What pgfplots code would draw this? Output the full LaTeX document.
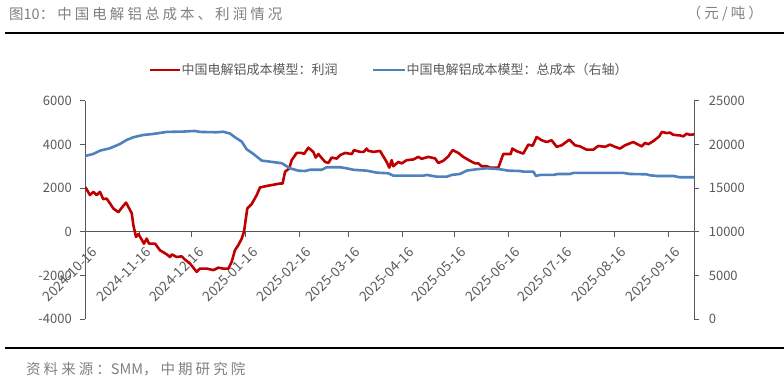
\documentclass[border=0pt]{standalone}
\usepackage{pgfplots}
\pgfplotsset{compat=1.18}
\usepackage{pgfplotstable}
\usepackage{fontspec}
\setmainfont{Noto Sans CJK SC}
\newfontfamily\titlefont[LetterSpace=21]{Noto Sans CJK SC}
\newfontfamily\plainfont{Noto Sans CJK SC}
\definecolor{cred}{RGB}{192,0,0}
\definecolor{cblue}{RGB}{79,129,189}
\definecolor{tgray}{HTML}{595959}
\definecolor{hgray}{HTML}{808080}

\pgfplotstableread{
day profit
0 2050
2.7 1680
4.6 1830
6.5 1680
8.4 1830
10.3 1500
12.3 1520
14.2 1300
16.1 1070
19.0 900
20.9 1100
23.4 1340
26.7 850
27.6 320
29.1 -230
30.5 -100
32.4 -350
33.7 -540
35.3 -310
36.6 -540
40.1 -540
42.9 -840
46.8 -1030
48.7 -1150
49.7 -1030
52.5 -1150
55.4 -1120
57.3 -1270
60.2 -1450
64.0 -1830
65.9 -1680
69.8 -1680
73.6 -1750
76.4 -1640
79.3 -1680
82.2 -1680
84.1 -1380
86.0 -840
87.9 -610
89.9 -310
91.2 0
93.1 1070
95.6 1270
98.5 1680
100.4 2030
104.3 2100
111.9 2210
113.4 2210
114.8 2750
117.2 2900
118.6 3280
121.5 3610
124.4 3610
125.7 3560
128.2 3850
131.0 3660
132.4 3400
133.9 3560
135.3 3430
137.8 3200
139.7 3150
141.6 3400
144.5 3350
146.4 3510
149.3 3610
153.1 3560
154.4 3740
157.9 3660
160.0 3660
161.7 3810
162.6 3710
165.5 3660
169.4 3700
173.2 3200
174.7 2940
176.1 3280
177.0 3000
179.9 3200
181.8 3130
184.7 3280
188.5 3310
191.4 3430
193.3 3340
197.1 3430
201.0 3360
202.9 3150
205.7 3250
208.6 3450
211.1 3740
214.4 3610
217.2 3430
221.1 3250
224.0 3130
225.9 3130
227.8 3000
230.7 3000
232.6 2940
237.4 2940
240.2 3560
244.5 3560
245.4 3810
247.9 3690
251.7 3580
254.6 3990
257.1 3940
259.4 4340
262.3 4190
265.2 4110
268.0 4190
270.9 3890
273.8 3960
278.2 4220
281.4 3960
284.3 3910
288.1 3760
292.0 3760
294.8 3930
298.7 3890
301.5 3990
304.4 3890
307.3 3810
310.2 3960
314.9 4110
317.8 3990
319.8 3910
321.7 4070
323.6 4010
326.4 4150
329.9 4370
331.3 4570
334.1 4520
336.0 4540
337.9 4440
341.8 4410
343.7 4370
345.6 4490
347.5 4440
350.0 4460
}\profittable

\pgfplotstableread{
day cost
0 18680
4.6 18910
8.4 19290
14.2 19560
19.9 20050
23.8 20510
27.6 20820
33.3 21080
39.1 21200
46.8 21430
56.3 21470
63.0 21540
65.9 21430
75.5 21390
79.3 21450
83.2 21240
86.0 20820
89.9 20320
92.7 19450
96.6 18910
101.4 18150
106.1 18030
112.9 17850
117.6 17270
122.4 17000
126.3 16960
129.1 17100
135.9 17100
138.7 17390
146.4 17390
150.2 17270
154.0 17100
161.7 17000
167.5 16770
174.1 16700
177.0 16430
194.3 16430
196.2 16510
202.0 16310
207.7 16310
210.6 16510
215.3 16620
219.2 17000
224.9 17160
230.7 17270
238.3 17160
243.1 17000
249.8 16960
251.7 16890
257.5 16890
259.0 16390
261.3 16510
269.0 16510
271.8 16620
278.6 16620
280.5 16740
309.2 16740
313.0 16620
322.6 16580
324.5 16470
328.4 16390
337.9 16390
341.8 16240
350.0 16240
}\costtable

\begin{document}
\begin{tikzpicture}
\path[use as bounding box] (0,0) rectangle (784bp,378bp);
\pgfplotsset{
  common/.style={
    at={(85.3bp,58.7bp)}, anchor=south west,
    scale only axis, width=609bp, height=218.6bp,
    xmin=0, xmax=350,
    hide obscured x ticks=false, hide obscured y ticks=false,
    tick align=outside, major tick length=5bp,
    axis line style={tgray, line width=0.9bp},
    tick style={tgray, line width=0.9bp},
    ticklabel style={font=\fontsize{13bp}{15bp}\selectfont, text=tgray},
    /pgf/number format/assume math mode=true,
    /pgf/number format/1000 sep={},
    scaled y ticks=false,
  }
}
\begin{axis}[common,
  ymin=-4000, ymax=6000,
  axis x line*=middle, axis y line*=left,
  xtick={0,31,61,92,123,151,182,212,243,273,304,335},
  xticklabels={2024-10-16,2024-11-16,2024-12-16,2025-01-16,2025-02-16,2025-03-16,2025-04-16,2025-05-16,2025-06-16,2025-07-16,2025-08-16,2025-09-16},
  xticklabel style={rotate=45, anchor=east, yshift=-16bp, xshift=1bp, font=\fontsize{13.6bp}{15bp}\selectfont},
  yticklabel style={xshift=-5bp},
  ytick={-4000,-2000,0,2000,4000,6000},
]
\addplot[cred, line width=2.6bp, line join=round] table[x=day, y=profit] {\profittable};
\end{axis}
\begin{axis}[common,
  ymin=0, ymax=25000,
  axis y line*=right, axis x line=none,
  yticklabel style={xshift=6bp},
  ytick={0,5000,10000,15000,20000,25000},
]
\addplot[cblue, line width=2.6bp, line join=round] table[x=day, y=cost] {\costtable};
\end{axis}
% legend
\draw[cred, line width=2.6bp] (150bp,308bp) -- (180bp,308bp);
\node[anchor=west, inner sep=0pt, text=tgray, font=\fontsize{13bp}{15bp}\selectfont] at (181.5bp,308bp) {中国电解铝成本模型：利润};
\draw[cblue, line width=2.6bp] (373bp,308bp) -- (405bp,308bp);
\node[anchor=west, inner sep=0pt, text=tgray, font=\fontsize{13bp}{15bp}\selectfont] at (406.5bp,308bp) {中国电解铝成本模型：总成本（右轴）};
% header
\node[anchor=west, inner sep=0pt, text=hgray, font=\fontsize{14.5bp}{16bp}\titlefont] at (9bp,364bp) {图{\plainfont 10}：中国电解铝总成本、利润情况};
\node[anchor=east, inner sep=0pt, text=hgray, font=\fontsize{14.5bp}{16bp}\titlefont] at (763bp,364bp) {（元/吨）};
\draw[black, line width=2.3bp] (5bp,345bp) -- (784bp,345bp);
\draw[black, line width=2.3bp] (5bp,30bp) -- (784bp,30bp);
\node[anchor=west, inner sep=0pt, text=hgray, font=\fontsize{14.5bp}{16bp}\titlefont] at (26bp,9bp) {资料来源：{\plainfont SMM}，中期研究院};
\end{tikzpicture}
\end{document}
